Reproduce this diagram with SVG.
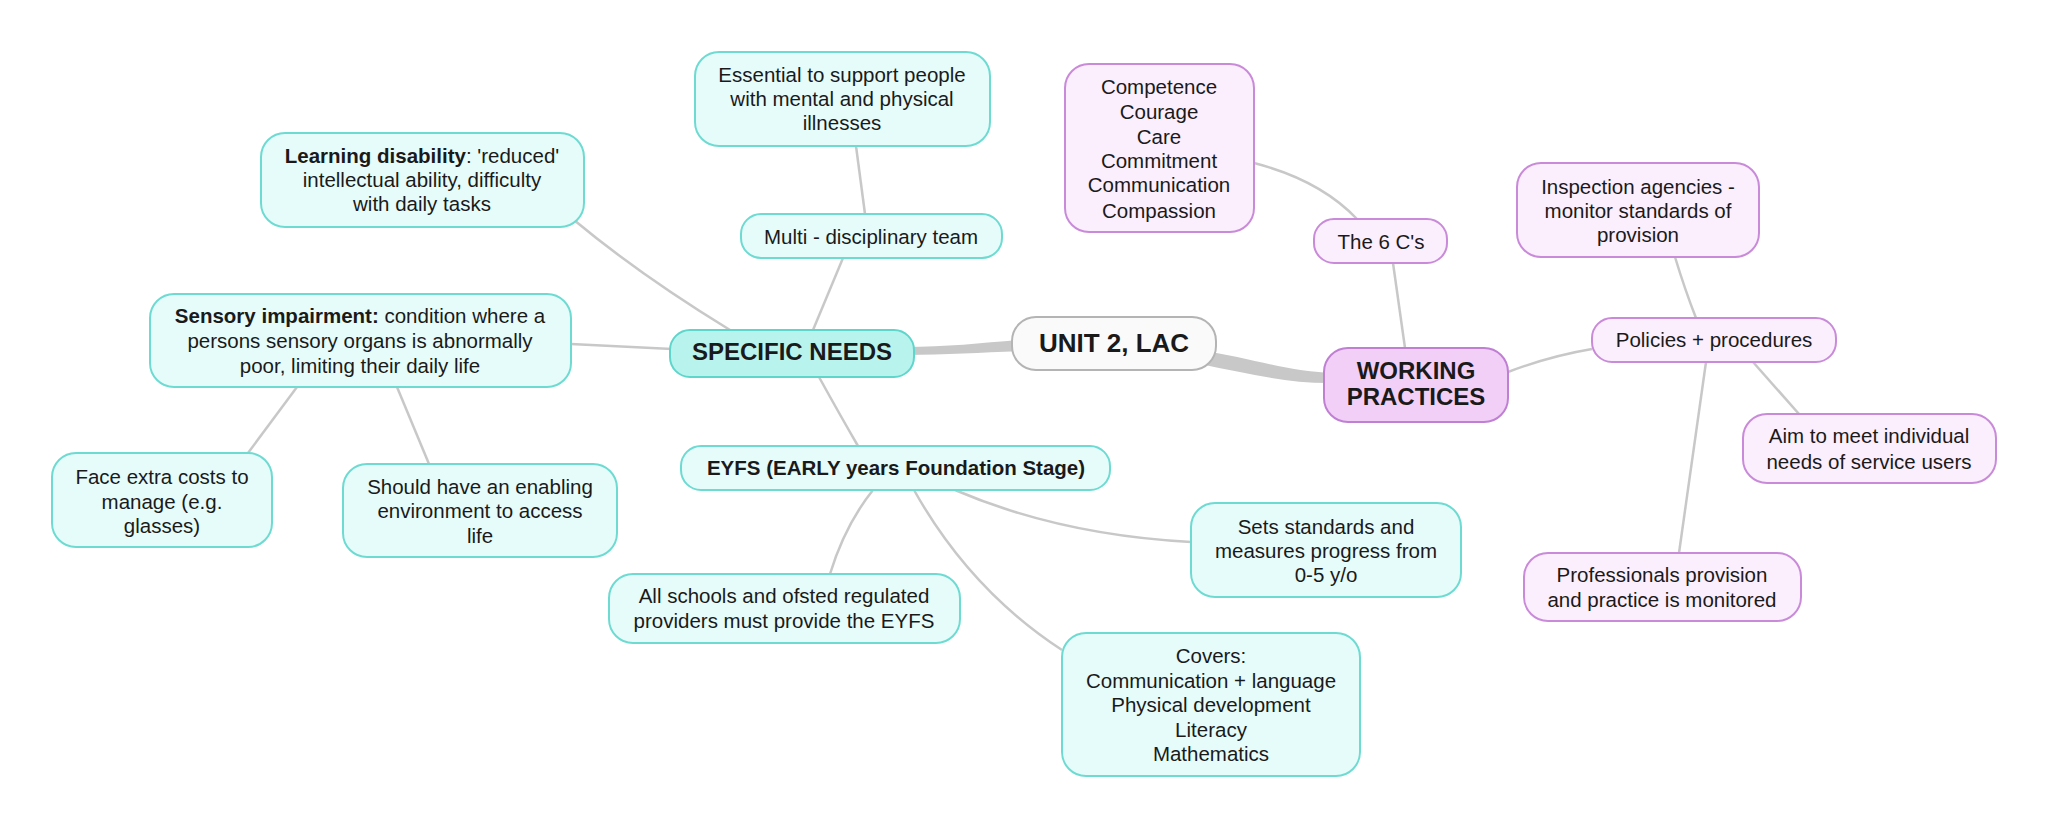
<svg xmlns="http://www.w3.org/2000/svg" width="2048" height="828" viewBox="0 0 2048 828">
<style>
text{font-family:"Liberation Sans",Arial,sans-serif;fill:#1a1a1a;text-anchor:middle;font-size:20.5px}
.b{font-weight:bold}
.t rect{fill:#e6fcfa;stroke:#6edbd2;stroke-width:2}
.tm rect{fill:#b9f3ee;stroke:#5fd6cc;stroke-width:2}
.p rect{fill:#fbeefd;stroke:#c98bd9;stroke-width:2}
.pm rect{fill:#f2cff7;stroke:#bf7fd3;stroke-width:2}
.c rect{fill:#fafafa;stroke:#b4b4b4;stroke-width:2}
.ln{fill:none;stroke:#c8c8c8;stroke-width:2.5}
.th{fill:#c8c8c8}
</style>
<rect width="2048" height="828" fill="#ffffff"/>
<g id="connectors">
<path class="th" d="M 905 347 C 950 347 990 342 1030 339 L 1030 351 C 990 352 950 355 905 355 Z"/>
<path class="th" d="M 1200 350 C 1250 358 1290 372 1335 373 L 1335 383 C 1290 384 1250 374 1200 364 Z"/>
<path class="ln" d="M 574 220 Q 640 275 730 330"/>
<path class="ln" d="M 571 344 L 672 349"/>
<path class="ln" d="M 297 387 L 248 453"/>
<path class="ln" d="M 397 387 L 429 464"/>
<path class="ln" d="M 813 330 L 843 258"/>
<path class="ln" d="M 865 214 L 856 146"/>
<path class="ln" d="M 819 377 Q 840 415 858 446"/>
<path class="ln" d="M 873 490 Q 845 525 830 574"/>
<path class="ln" d="M 914 490 Q 970 590 1062 650"/>
<path class="ln" d="M 955 490 Q 1060 535 1191 542"/>
<path class="ln" d="M 1405 348 L 1393 263"/>
<path class="ln" d="M 1357 219 Q 1320 180 1254 163"/>
<path class="ln" d="M 1508 372 Q 1550 356 1592 349"/>
<path class="ln" d="M 1696 318 Q 1685 290 1675 257"/>
<path class="ln" d="M 1753 362 L 1799 414"/>
<path class="ln" d="M 1706 362 L 1679 553"/>
</g>
<g id="specific-needs" class="tm"><rect x="670" y="330" width="244" height="47" rx="20"/><text x="792" y="360" class="b" style="font-size:24px">SPECIFIC NEEDS</text></g>
<g id="learning-disability" class="t"><rect x="261" y="133" width="323" height="94" rx="24"/><text x="422" y="163"><tspan class="b">Learning disability</tspan>: 'reduced'</text><text x="422" y="187">intellectual ability, difficulty</text><text x="422" y="211">with daily tasks</text></g>
<g id="sensory-impairment" class="t"><rect x="150" y="294" width="421" height="93" rx="24"/><text x="360" y="323"><tspan class="b">Sensory impairment:</tspan> condition where a</text><text x="360" y="348">persons sensory organs is abnormally</text><text x="360" y="373">poor, limiting their daily life</text></g>
<g id="multi-disciplinary" class="t"><rect x="741" y="214" width="261" height="44" rx="20"/><text x="871" y="244">Multi - disciplinary team</text></g>
<g id="essential" class="t"><rect x="695" y="52" width="295" height="94" rx="24"/><text x="842" y="82">Essential to support people</text><text x="842" y="106">with mental and physical</text><text x="842" y="130">illnesses</text></g>
<g id="extra-costs" class="t"><rect x="52" y="453" width="220" height="94" rx="24"/><text x="162" y="484">Face extra costs to</text><text x="162" y="509">manage (e.g.</text><text x="162" y="533">glasses)</text></g>
<g id="enabling-environment" class="t"><rect x="343" y="464" width="274" height="93" rx="24"/><text x="480" y="494">Should have an enabling</text><text x="480" y="518">environment to access</text><text x="480" y="543">life</text></g>
<g id="eyfs" class="t"><rect x="681" y="446" width="429" height="44" rx="20"/><text x="896" y="475" class="b">EYFS (EARLY years Foundation Stage)</text></g>
<g id="all-schools" class="t"><rect x="609" y="574" width="351" height="69" rx="24"/><text x="784" y="603">All schools and ofsted regulated</text><text x="784" y="628">providers must provide the EYFS</text></g>
<g id="sets-standards" class="t"><rect x="1191" y="503" width="270" height="94" rx="24"/><text x="1326" y="534">Sets standards and</text><text x="1326" y="558">measures progress from</text><text x="1326" y="582">0-5 y/o</text></g>
<g id="covers" class="t"><rect x="1062" y="633" width="298" height="143" rx="24"/><text x="1211" y="663">Covers:</text><text x="1211" y="688">Communication + language</text><text x="1211" y="712">Physical development</text><text x="1211" y="737">Literacy</text><text x="1211" y="761">Mathematics</text></g>
<g id="unit2-lac" class="c"><rect x="1012" y="317" width="204" height="53" rx="24"/><text x="1114" y="352" class="b" style="font-size:26px">UNIT 2, LAC</text></g>
<g id="working-practices" class="pm"><rect x="1324" y="348" width="184" height="74" rx="24"/><text x="1416" y="379" class="b" style="font-size:24px">WORKING</text><text x="1416" y="405" class="b" style="font-size:24px">PRACTICES</text></g>
<g id="six-cs" class="p"><rect x="1314" y="219" width="133" height="44" rx="20"/><text x="1381" y="249">The 6 C's</text></g>
<g id="six-cs-list" class="p"><rect x="1065" y="64" width="189" height="168" rx="24"/><text x="1159" y="94">Competence</text><text x="1159" y="119">Courage</text><text x="1159" y="144">Care</text><text x="1159" y="168">Commitment</text><text x="1159" y="192">Communication</text><text x="1159" y="218">Compassion</text></g>
<g id="policies" class="p"><rect x="1592" y="318" width="244" height="44" rx="20"/><text x="1714" y="347">Policies + procedures</text></g>
<g id="inspection" class="p"><rect x="1517" y="163" width="242" height="94" rx="24"/><text x="1638" y="194">Inspection agencies -</text><text x="1638" y="218">monitor standards of</text><text x="1638" y="242">provision</text></g>
<g id="individual-needs" class="p"><rect x="1743" y="414" width="253" height="69" rx="24"/><text x="1869" y="443">Aim to meet individual</text><text x="1869" y="469">needs of service users</text></g>
<g id="professionals" class="p"><rect x="1524" y="553" width="277" height="68" rx="24"/><text x="1662" y="582">Professionals provision</text><text x="1662" y="607">and practice is monitored</text></g>
</svg>
